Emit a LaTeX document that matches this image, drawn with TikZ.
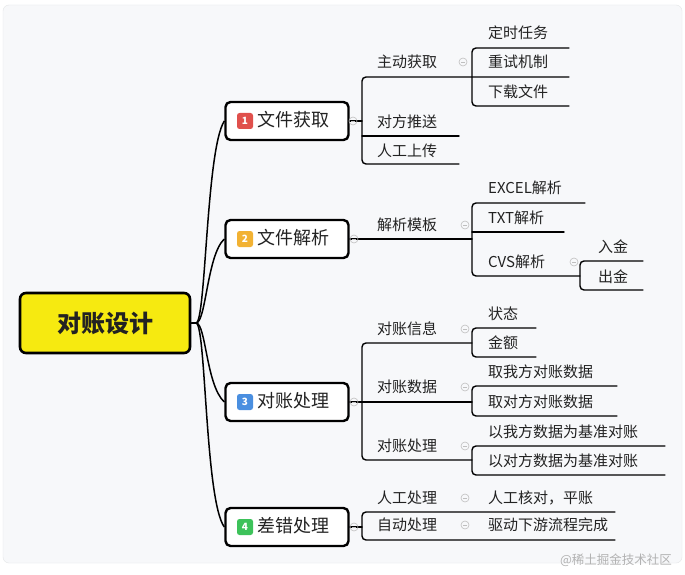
\documentclass[tikz,border=0pt]{standalone}
\usepackage{fontspec}
\setmainfont{Noto Sans CJK SC}
\definecolor{bgc}{HTML}{F7F8FA}
\definecolor{framec}{HTML}{E4E6E8}
\definecolor{txt}{HTML}{222222}
\definecolor{rootfill}{HTML}{F6EA10}
\definecolor{bred}{HTML}{E0504C}
\definecolor{borange}{HTML}{F2B233}
\definecolor{bblue}{HTML}{4A8FE0}
\definecolor{bgreen}{HTML}{3DC25A}
\tikzset{
 lvtwo/.style={anchor=west, inner sep=0pt, font=\fontsize{15}{18}\selectfont, text=txt},
 lvone/.style={anchor=west, inner sep=0pt, font=\fontsize{18}{20}\selectfont, text=txt},
 ln/.style={line width=1.4pt, black, line cap=round},
 barline/.style={ln, rounded corners=4pt},
 conn/.style={line width=1.5pt, black},
 lonebox/.style={draw=black, line width=2.4pt, rounded corners=5pt, fill=white, minimum width=123pt, minimum height=38pt},
 rootbox/.style={draw=black, line width=2.6pt, rounded corners=6pt, fill=rootfill, minimum width=170pt, minimum height=60pt, font=\fontsize{24}{26}\selectfont\bfseries, text=txt},
 badge/.style={rounded corners=2.5pt, minimum size=16pt, inner sep=0pt, text=white, font=\fontsize{10}{10}\selectfont\bfseries},
 cbtn/.style={draw=gray!50, line width=0.6pt, circle, minimum size=8pt, inner sep=0pt,
   path picture={\draw[gray!50, line width=0.6pt] ([xshift=2pt]path picture bounding box.center) -- ([xshift=-2pt]path picture bounding box.center);}},
 wmark/.style={anchor=center, inner sep=0pt, font=\fontsize{12.5}{14}\selectfont, text=gray!60},
}
\begin{document}
\begin{tikzpicture}[x=1pt,y=-1pt]
\useasboundingbox (0,0) rectangle (685,575);
\fill[white] (0,0) rectangle (685,575);
\draw[draw=framec, fill=bgc, rounded corners=6pt] (3,5) rectangle (682,563);

% root and level-1 boxes
\node[rootbox] (root) at (105,323) {对账设计};
\node[lonebox] (b1) at (287,121) {};
\node[lonebox] (b2) at (287,239) {};
\node[lonebox] (b3) at (287,402) {};
\node[lonebox] (b4) at (287,527) {};
\node[badge, fill=bred] (g1) at (245,121) {1};
\node[badge, fill=borange] (g2) at (245,239) {2};
\node[badge, fill=bblue] (g3) at (245,402) {3};
\node[badge, fill=bgreen] (g4) at (245,527) {4};
\node[lvone] (t1) at (257,120) {文件获取};
\node[lvone] (t2) at (257,238) {文件解析};
\node[lvone] (t3) at (257,401) {对账处理};
\node[lvone] (t4) at (257,526) {差错处理};

% root connectors
\draw[conn] (root.east) -- (196,323) .. controls (206,323) and (206,150) .. (b1.west);
\draw[conn] (root.east) -- (196,323) .. controls (206,323) and (207,255) .. (b2.west);
\draw[conn] (root.east) -- (196,323) .. controls (206,323) and (206,385) .. (b3.west);
\draw[conn] (root.east) -- (196,323) .. controls (206,323) and (205,500) .. (b4.west);

% ---- branch 1
\coordinate (j1) at (362,121);
\draw[ln] (b1.east) -- (j1);
\draw[barline] (569,77) -- (362,77) -- (362,164) -- (459,164);
\draw[ln] (362,136) -- (459,136);
\draw[barline] (569,48) -- (472,48) -- (472,106) -- (569,106);
\node[lvtwo] (a1) at (377,62) {主动获取};
\node[lvtwo] (a2) at (377,122) {对方推送};
\node[lvtwo] (a3) at (377,151) {人工上传};
\node[lvtwo] (a11) at (488,33) {定时任务};
\node[lvtwo] (a12) at (488,62) {重试机制};
\node[lvtwo] (a13) at (488,92) {下载文件};

% ---- branch 2
\draw[ln] (b2.east) -- (472,239);
\draw[barline] (585,203) -- (472,203) -- (472,276) -- (580,276);
\draw[ln] (472,232) -- (564,232);
\draw[barline] (643,261) -- (580,261) -- (580,290) -- (643,290);
\node[lvtwo] (p1) at (377,225) {解析模板};
\node[lvtwo] (p11) at (488,188) {EXCEL解析};
\node[lvtwo] (p12) at (488,218) {TXT解析};
\node[lvtwo] (p13) at (488,262) {CVS解析};
\node[lvtwo] (p131) at (598,247) {入金};
\node[lvtwo] (p132) at (598,277) {出金};

% ---- branch 3
\draw[barline] (472,343) -- (362,343) -- (362,460) -- (472,460);
\draw[ln] (b3.east) -- (472,402);
\draw[barline] (536,328) -- (472,328) -- (472,357) -- (536,357);
\draw[barline] (617,386) -- (472,386) -- (472,416) -- (617,416);
\draw[barline] (665,446) -- (472,446) -- (472,475) -- (665,475);
\node[lvtwo] (c1) at (377,329) {对账信息};
\node[lvtwo] (c2) at (377,387) {对账数据};
\node[lvtwo] (c3) at (377,446) {对账处理};
\node[lvtwo] (c11) at (488,314) {状态};
\node[lvtwo] (c12) at (488,343) {金额};
\node[lvtwo] (c21) at (488,372) {取我方对账数据};
\node[lvtwo] (c22) at (488,402) {取对方对账数据};
\node[lvtwo] (c31) at (488,432) {以我方数据为基准对账};
\node[lvtwo] (c32) at (488,461) {以对方数据为基准对账};

% ---- branch 4
\draw[barline] (615,512) -- (362,512) -- (362,540) -- (615,540);
\draw[ln] (b4.east) -- (362,527);
\node[lvtwo] (d1) at (377,498) {人工处理};
\node[lvtwo] (d2) at (377,525) {自动处理};
\node[lvtwo] (d11) at (488,498) {人工核对，平账};
\node[lvtwo] (d21) at (488,525) {驱动下游流程完成};

% collapse buttons
\node[cbtn] at (353,121) {};
\node[cbtn] at (463,62) {};
\node[cbtn] at (354,239) {};
\node[cbtn] at (465,225) {};
\node[cbtn] at (574,262) {};
\node[cbtn] at (354,402) {};
\node[cbtn] at (465,329) {};
\node[cbtn] at (465,387) {};
\node[cbtn] at (465,446) {};
\node[cbtn] at (354,527) {};
\node[cbtn] at (465,498) {};
\node[cbtn] at (465,525) {};

% watermark
\node[wmark] (wm) at (616,560) {@稀土掘金技术社区};
\end{tikzpicture}
\end{document}
